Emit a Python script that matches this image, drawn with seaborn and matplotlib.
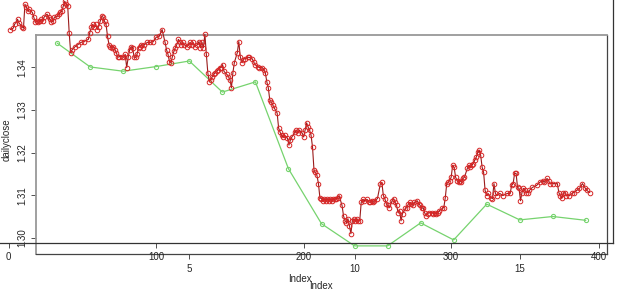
import matplotlib
matplotlib.use("Agg")
import matplotlib.pyplot as plt
import seaborn as sns

# daily close (red series), index -> value
red_index = [1, 3, 4, 6, 7, 9, 10, 11, 12, 13, 14, 16, 17, 18, 19, 20, 21, 22, 23, 24,
             26, 27, 28, 29, 30, 31, 33, 34, 35, 36, 37, 38, 39, 40, 41, 42, 43, 45, 47, 49,
             51, 54, 55, 56, 57, 58, 59, 60, 61, 62, 63, 64, 65, 66, 67, 68, 69, 70, 71, 72,
             73, 74, 75, 77, 78, 79, 80, 81, 82, 83, 84, 85, 86, 87, 88, 89, 90, 91, 92, 94,
             96, 98, 100, 102, 104, 106, 107, 108, 109, 110, 111, 112, 113, 114, 115, 116, 117, 118, 119, 121,
             122, 123, 124, 125, 126, 128, 129, 130, 131, 132, 133, 134, 135, 136, 137, 138, 139, 140, 141, 142,
             143, 144, 145, 146, 148, 149, 150, 151, 152, 153, 155, 156, 157, 158, 159, 160, 162, 163, 165, 166,
             167, 169, 170, 172, 173, 174, 175, 176, 177, 178, 179, 180, 182, 183, 184, 185, 186, 187, 189, 190,
             191, 192, 194, 195, 196, 197, 199, 200, 201, 202, 203, 204, 205, 206, 207, 208, 209, 210, 211, 212,
             213, 214, 215, 216, 217, 218, 219, 220, 221, 222, 223, 224, 226, 227, 228, 229, 230, 231, 232, 233,
             234, 235, 236, 237, 238, 239, 240, 241, 243, 244, 245, 246, 247, 248, 250, 252, 253, 254, 255, 256,
             257, 258, 260, 261, 262, 263, 264, 265, 266, 267, 269, 270, 271, 272, 273, 274, 275, 277, 278, 279,
             280, 281, 282, 283, 284, 285, 287, 288, 289, 290, 291, 292, 294, 295, 296, 297, 298, 299, 300, 301,
             302, 303, 304, 305, 306, 307, 308, 309, 311, 312, 313, 314, 315, 316, 317, 318, 319, 320, 321, 322,
             323, 324, 325, 327, 328, 329, 330, 331, 333, 335, 338, 340, 341, 342, 343, 344, 345, 346, 347, 348,
             349, 350, 351, 352, 353, 355, 358, 360, 362, 363, 365, 366, 367, 369, 372, 373, 374, 375, 376, 377,
             378, 380, 382, 383, 385, 387, 389, 391, 392, 394]
red_close = [1.3489, 1.3492, 1.3501, 1.3513, 1.3504, 1.3496, 1.3492, 1.3548, 1.3541, 1.3532, 1.3536, 1.3529, 1.3518, 1.3506, 1.3508, 1.3506, 1.3508, 1.3513, 1.3508, 1.3518,
             1.3525, 1.3518, 1.3513, 1.3506, 1.3508, 1.3518, 1.3520, 1.3525, 1.3529, 1.3532, 1.3544, 1.3555, 1.3548, 1.3544, 1.3482, 1.3435, 1.3442, 1.3449, 1.3454, 1.3459,
             1.3461, 1.3466, 1.3482, 1.3494, 1.3501, 1.3494, 1.3501, 1.3489, 1.3496, 1.3508, 1.3520, 1.3518, 1.3508, 1.3501, 1.3473, 1.3454, 1.3449, 1.3447, 1.3449, 1.3442,
             1.3435, 1.3424, 1.3426, 1.3426, 1.3424, 1.3431, 1.3400, 1.3424, 1.3442, 1.3449, 1.3447, 1.3424, 1.3424, 1.3431, 1.3447, 1.3449, 1.3454, 1.3447, 1.3454, 1.3459,
             1.3459, 1.3461, 1.3471, 1.3473, 1.3489, 1.3459, 1.3442, 1.3431, 1.3414, 1.3412, 1.3426, 1.3438, 1.3447, 1.3454, 1.3466, 1.3461, 1.3454, 1.3459, 1.3454, 1.3449,
             1.3454, 1.3459, 1.3454, 1.3459, 1.3449, 1.3454, 1.3461, 1.3447, 1.3459, 1.3447, 1.3478, 1.3431, 1.3388, 1.3367, 1.3372, 1.3379, 1.3384, 1.3388, 1.3391, 1.3395,
             1.3400, 1.3400, 1.3407, 1.3391, 1.3384, 1.3379, 1.3372, 1.3353, 1.3388, 1.3412, 1.3435, 1.3461, 1.3426, 1.3412, 1.3419, 1.3421, 1.3424, 1.3424, 1.3421, 1.3414,
             1.3407, 1.3402, 1.3400, 1.3400, 1.3395, 1.3388, 1.3367, 1.3353, 1.3325, 1.3320, 1.3313, 1.3306, 1.3294, 1.3259, 1.3249, 1.3242, 1.3238, 1.3242, 1.3235, 1.3219,
             1.3231, 1.3238, 1.3249, 1.3254, 1.3247, 1.3254, 1.3247, 1.3238, 1.3254, 1.3271, 1.3261, 1.3254, 1.3242, 1.3214, 1.3160, 1.3155, 1.3148, 1.3129, 1.3096, 1.3094,
             1.3089, 1.3094, 1.3089, 1.3094, 1.3089, 1.3094, 1.3089, 1.3094, 1.3092, 1.3094, 1.3096, 1.3101, 1.3078, 1.3054, 1.3042, 1.3038, 1.3047, 1.3031, 1.3012, 1.3042,
             1.3047, 1.3042, 1.3047, 1.3042, 1.3042, 1.3085, 1.3092, 1.3089, 1.3092, 1.3087, 1.3085, 1.3089, 1.3085, 1.3089, 1.3094, 1.3129, 1.3132, 1.3101, 1.3094, 1.3082,
             1.3078, 1.3073, 1.3089, 1.3094, 1.3085, 1.3078, 1.3061, 1.3066, 1.3042, 1.3059, 1.3071, 1.3073, 1.3082, 1.3085, 1.3082, 1.3078, 1.3085, 1.3089, 1.3082, 1.3078,
             1.3071, 1.3073, 1.3061, 1.3054, 1.3059, 1.3061, 1.3061, 1.3059, 1.3061, 1.3059, 1.3061, 1.3066, 1.3071, 1.3073, 1.3096, 1.3129, 1.3132, 1.3136, 1.3144, 1.3172,
             1.3167, 1.3144, 1.3136, 1.3132, 1.3136, 1.3132, 1.3141, 1.3144, 1.3165, 1.3172, 1.3167, 1.3172, 1.3176, 1.3184, 1.3191, 1.3202, 1.3207, 1.3195, 1.3167, 1.3155,
             1.3113, 1.3101, 1.3106, 1.3096, 1.3094, 1.3129, 1.3106, 1.3101, 1.3106, 1.3101, 1.3106, 1.3106, 1.3125, 1.3129, 1.3153, 1.3153, 1.3120, 1.3118, 1.3089, 1.3108,
             1.3118, 1.3113, 1.3108, 1.3108, 1.3113, 1.3120, 1.3125, 1.3132, 1.3136, 1.3132, 1.3141, 1.3136, 1.3129, 1.3129, 1.3129, 1.3108, 1.3101, 1.3096, 1.3106, 1.3108,
             1.3101, 1.3101, 1.3106, 1.3108, 1.3113, 1.3118, 1.3129, 1.3118, 1.3113, 1.3108]

# aggregated series (green)
green_index = list(range(1, 18))
green_close = [1.3457, 1.3401, 1.3391, 1.3402, 1.3415, 1.3342, 1.3366, 1.3162, 1.3033,
               1.2981, 1.2981, 1.3035, 1.2995, 1.3079, 1.3042, 1.3050, 1.3041]

red_ticks = [0, 100, 200, 300, 400]
green_xticks = [5, 10, 15]
green_yticks = [1.30, 1.31, 1.32, 1.33, 1.34]
green_ytick_labels = ["1.30", "1.31", "1.32", "1.33", "1.34"]

W, H = 625, 299

sns.set_theme(style="white")
plt.rcParams["font.family"] = ["Liberation Sans", "DejaVu Sans"]
plt.rcParams["font.size"] = 7


def rect(l, t, r, b):
    return [l / W, 1 - b / H, (r - l) / W, (b - t) / H]


def rlim(v):
    # R-style 4% padding
    lo, hi = min(v), max(v)
    p = 0.04 * (hi - lo)
    return lo - p, hi + p


fig = plt.figure(figsize=(W / 100, H / 100), dpi=100)
ax_g = fig.add_axes(rect(36, 35, 607, 254))
ax_r = fig.add_axes(rect(-13, -8, 613, 243))
ax_r.patch.set_alpha(0)

# green plot
sns.lineplot(x=green_index, y=green_close, ax=ax_g, color="#76d36e", linewidth=0.9,
             marker="o", markersize=3, markerfacecolor="none",
             markeredgecolor="#76d36e", markeredgewidth=0.8)
ax_g.set_xlim(rlim(green_index))
ax_g.set_ylim(rlim(green_close))
ax_g.set_xticks(green_xticks)
ax_g.set_xticklabels([str(t) for t in green_xticks])
ax_g.set_yticks(green_yticks)
ax_g.set_yticklabels(green_ytick_labels, rotation=90, va="center")
ax_g.tick_params(axis="both", direction="out", length=3.5, width=0.6,
                 color="#333333", labelsize=7, pad=3, bottom=True, left=True)
ax_g.tick_params(axis="x", pad=4)
for side in ["top", "left"]:
    ax_g.spines[side].set_color("#999999")
    ax_g.spines[side].set_linewidth(1.3)
for side in ["bottom", "right"]:
    ax_g.spines[side].set_color("#444444")
    ax_g.spines[side].set_linewidth(0.9)
ax_g.set_xlabel("")
ax_g.set_ylabel("")

# red plot on top
sns.lineplot(x=red_index, y=red_close, ax=ax_r, color="#9b1c1c", linewidth=0.8,
             marker="o", markersize=3.3, markerfacecolor="none",
             markeredgecolor="#d62626", markeredgewidth=0.7)
ax_r.set_xlim(rlim(red_index))
ax_r.set_ylim(rlim(red_close))
ax_r.set_xticks(red_ticks)
ax_r.set_xticklabels([str(t) for t in red_ticks])
ax_r.set_yticks([])
ax_r.tick_params(axis="x", direction="out", length=3.5, width=0.6,
                 color="#333333", labelsize=7, pad=3, bottom=True)
for side in ["top", "left"]:
    ax_r.spines[side].set_visible(False)
for side in ["bottom", "right"]:
    ax_r.spines[side].set_color("#333333")
    ax_r.spines[side].set_linewidth(0.9)
ax_r.set_xlabel("")
ax_r.set_ylabel("")

fig.text(7 / W, 1 - 140 / H, "dailyclose", rotation=90, ha="center", va="center", fontsize=7)
fig.text(300 / W, 1 - 279 / H, "Index", ha="center", va="center", fontsize=7)
fig.text(321 / W, 1 - 286 / H, "Index", ha="center", va="center", fontsize=7)

fig.savefig("out.png", dpi=100)
